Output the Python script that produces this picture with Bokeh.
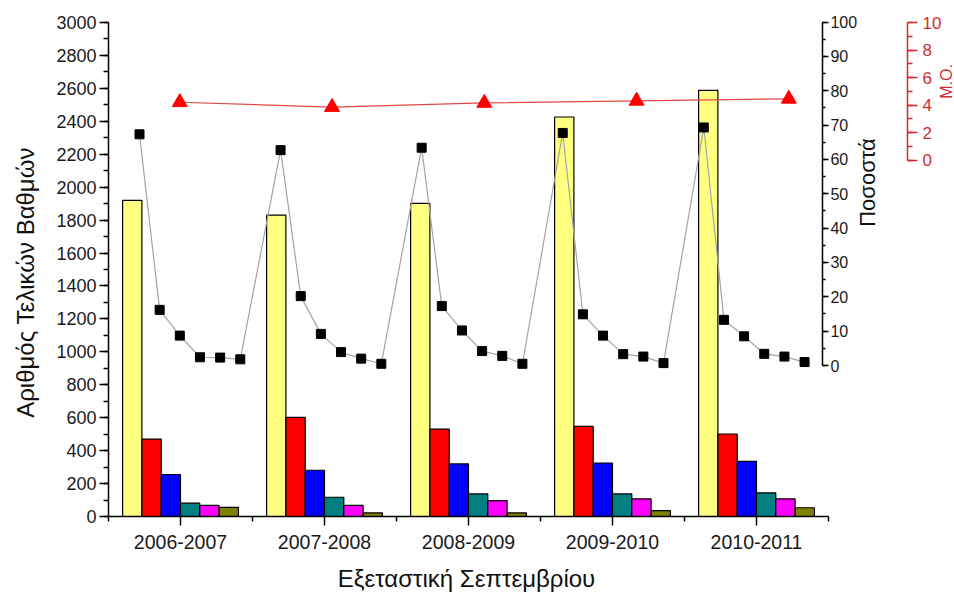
import math

from bokeh.embed import file_html
from bokeh.models import (ColumnDataSource, FixedTicker, Label, LinearAxis,
                          Range1d, SingleIntervalTicker)
from bokeh.plotting import figure
from bokeh.resources import INLINE

# ---- data -------------------------------------------------------------
years = ["2006-2007", "2007-2008", "2008-2009", "2009-2010", "2010-2011"]

# number of final grades per grade band (one list per band, one value per year)
band1_counts = [1920, 1830, 1901, 2426, 2588]
band2_counts = [470, 602, 531, 547, 501]
band3_counts = [255, 281, 319, 325, 335]
band4_counts = [81, 117, 137, 137, 144]
band5_counts = [67, 67, 97, 107, 107]
band6_counts = [56, 22, 22, 36, 53]

# share of each band within the year (%)
band1_pct = [67.3, 62.7, 63.4, 67.7, 69.3]
band2_pct = [16.2, 20.2, 17.3, 14.9, 13.3]
band3_pct = [8.7, 9.2, 10.2, 8.7, 8.5]
band4_pct = [2.4, 3.9, 4.2, 3.3, 3.4]
band5_pct = [2.3, 2.0, 2.8, 2.6, 2.6]
band6_pct = [1.8, 0.5, 0.5, 0.7, 1.0]

# mean grade of the year
mean_grade = [4.2, 3.85, 4.15, 4.3, 4.45]

band_counts = [band1_counts, band2_counts, band3_counts,
               band4_counts, band5_counts, band6_counts]
band_pcts = [band1_pct, band2_pct, band3_pct, band4_pct, band5_pct, band6_pct]
band_colors = ["#FFFF80", "#FF0000", "#0000FF", "#008080", "#FF00FF", "#808000"]

FONT = "Liberation Sans"
RED = "#D42A2F"
BAR_W = 0.134
W, H = 954, 592


# ---- layout helpers -----------------------------------------------------
# The plot frame covers the whole canvas; every axis is pinned with
# fixed_location, so the ranges are set up from two anchor pixels each.
def x_range_from(px0, v0, px1, v1):
    k = (v1 - v0) / (px1 - px0)
    return Range1d(v0 - px0 * k, v0 + (W - px0) * k)


def y_range_from(py0, v0, py1, v1):
    # py measured from the top edge of the canvas
    k = (v1 - v0) / (py1 - py0)
    return Range1d(v0 + (H - py0) * k, v0 - py0 * k)


p = figure(width=W, height=H,
           x_range=x_range_from(180, 0, 756, 4),
           y_range=y_range_from(516, 0, 22, 3000),
           output_backend="svg", toolbar_location=None,
           x_axis_location=None, y_axis_location=None,
           min_border=0, min_border_left=0, min_border_right=0,
           min_border_top=0, min_border_bottom=0)
p.outline_line_color = None
p.xgrid.visible = False
p.ygrid.visible = False
p.background_fill_color = "white"
p.border_fill_color = "white"

p.extra_x_ranges = {"pct_x": x_range_from(139, 1, 703.3, 29),
                    "mo_x": x_range_from(179.3, 0, 788.3, 4)}
p.extra_y_ranges = {"pct": y_range_from(365, 0, 21.5, 100),
                    "mo": y_range_from(159.5, 0, 22, 10)}

# grouped bars
n = len(years)
for b, (counts, color) in enumerate(zip(band_counts, band_colors)):
    src = ColumnDataSource(dict(
        x=[g + (b - 2.5) * BAR_W for g in range(n)], top=counts))
    p.vbar(x="x", top="top", bottom=0, width=BAR_W, source=src,
           fill_color=color, line_color="black", line_width=1.2)

# percentage series (one continuous line through all bands of all years)
pct_x, pct_y = [], []
for g in range(n):
    for b, pct in enumerate(band_pcts):
        pct_x.append(g * 7 + b + 1)
        pct_y.append(pct[g])
pct_src = ColumnDataSource(dict(x=pct_x, y=pct_y))
p.line("x", "y", source=pct_src, x_range_name="pct_x", y_range_name="pct",
       line_color="#A4A4A4", line_width=1.2)
p.scatter("x", "y", source=pct_src, x_range_name="pct_x", y_range_name="pct",
          marker="square", size=9, fill_color="black", line_color="black")

# mean grade series
mo_src = ColumnDataSource(dict(x=list(range(n)), y=mean_grade))
p.line("x", "y", source=mo_src, x_range_name="mo_x", y_range_name="mo",
       line_color="#E04848", line_width=1.2)
p.scatter("x", "y", source=mo_src, x_range_name="mo_x", y_range_name="mo",
          marker="triangle", size=15, fill_color="#FF0000", line_color="#FF0000")


def style(ax, color="black", label_size="18px", tick_out=9, minor_out=5):
    ax.axis_line_color = color
    ax.axis_line_width = 1.5
    ax.major_tick_line_color = color
    ax.minor_tick_line_color = color
    ax.major_tick_line_width = 1.5
    ax.minor_tick_line_width = 1.5
    ax.major_tick_in = 0
    ax.minor_tick_in = 0
    ax.major_tick_out = tick_out
    ax.minor_tick_out = minor_out
    ax.major_label_text_font = FONT
    ax.major_label_text_font_size = label_size
    ax.major_label_text_color = "#1a1a1a" if color == "black" else color


# x axis: years, along count = 0
xax = LinearAxis(fixed_location=0, bounds=(-0.5, 4.5),
                 ticker=FixedTicker(ticks=list(range(n)),
                                    minor_ticks=[g - 0.5 for g in range(n + 1)]))
xax.major_label_overrides = {g: years[g] for g in range(n)}
style(xax, label_size="19.5px", tick_out=9, minor_out=5)
xax.major_label_standoff = 9
p.add_layout(xax, "below")

# left axis: counts, at the left edge of the first group
yax = LinearAxis(fixed_location=-0.5, bounds=(0, 3000),
                 ticker=SingleIntervalTicker(interval=200, num_minor_ticks=2))
style(yax)
yax.major_label_standoff = 3
p.add_layout(yax, "left")

# right axis: percentage
pax = LinearAxis(y_range_name="pct", fixed_location=4.458, bounds=(0, 100),
                 ticker=SingleIntervalTicker(interval=10, num_minor_ticks=2))
style(pax, label_size="16px", tick_out=6, minor_out=3)
pax.major_label_standoff = 2
p.add_layout(pax, "right")

# right axis: mean grade
max_ = LinearAxis(y_range_name="mo", fixed_location=5.049, bounds=(0, 10),
                  ticker=SingleIntervalTicker(interval=2, num_minor_ticks=2))
style(max_, color=RED, label_size="17px", tick_out=10, minor_out=5)
max_.major_label_standoff = 5
p.add_layout(max_, "right")


# axis titles (screen units, origin at the bottom-left corner)
def title(text, x, y, size, color="#111111", angle=math.pi / 2):
    return Label(x=x, y=y, x_units="screen", y_units="screen", text=text,
                 angle=angle, angle_units="rad",
                 text_align="center", text_baseline="middle",
                 text_font=FONT, text_font_size=size, text_color=color)


p.add_layout(title("Αριθμός Τελικών Βαθμών", 24.5, H - 282, "24px"))
p.add_layout(title("Εξεταστική Σεπτεμβρίου", 466, H - 578, "24px", angle=0))
p.add_layout(title("Ποσοστά", 867, H - 182, "22px"))
p.add_layout(title("Μ.Ο.", 946, H - 81, "16px", color=RED))

open("out.html", "w").write(file_html(p, INLINE))
